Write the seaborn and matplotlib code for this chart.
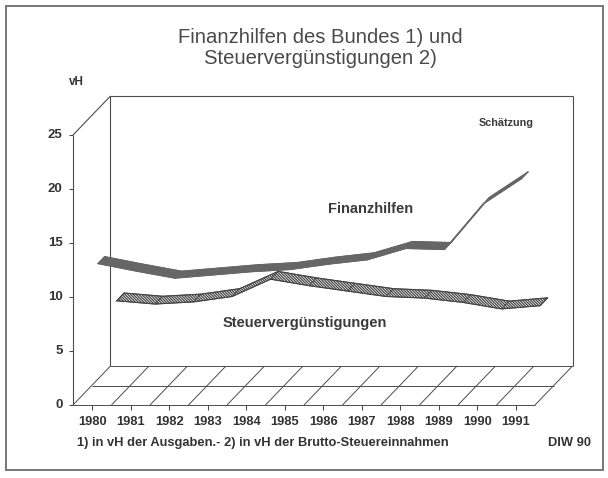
import numpy as np
import pandas as pd
import matplotlib
matplotlib.use("Agg")
import matplotlib.pyplot as plt
import seaborn as sns
from matplotlib.patches import Rectangle

# ---------------- data ----------------
years = [1980, 1981, 1982, 1983, 1984, 1985, 1986, 1987, 1988, 1989, 1990, 1991]
finanzhilfen = [12.55, 11.85, 11.2, 11.5, 11.8, 12.0, 12.5, 12.9, 13.95, 13.85, 18.05, 20.4]
steuerverg = [7.3, 7.0, 7.2, 7.7, 9.3, 8.7, 8.2, 7.7, 7.55, 7.15, 6.55, 6.85]
y_ticks = [0, 5, 10, 15, 20, 25]
title = "Finanzhilfen des Bundes 1) und\nSteuervergünstigungen 2)"
unit = "vH"
label_fin = "Finanzhilfen"
label_st = "Steuervergünstigungen"
note_est = "Schätzung"
footnote = "1) in vH der Ausgaben.- 2) in vH der Brutto-Steuereinnahmen"
source = "DIW 90"

# ---------------- style ----------------
sns.set_theme(style="white")
plt.rcParams["font.family"] = ["Liberation Sans", "DejaVu Sans"]
plt.rcParams["hatch.linewidth"] = 0.9
plt.rcParams["hatch.color"] = "#444444"

W, H = 608, 478
fig = plt.figure(figsize=(W / 100, H / 100), dpi=100)
fig.patch.set_facecolor("white")

# pixel layout of the pseudo-3D box
X0, Y0 = 73.0, 405.0      # front origin in pixels
CELL = 38.5               # pixels per year cell
UNIT = 10.8               # pixels per vH
ax = fig.add_axes([0, 0, 1, 1])
ax.set_xlim(-X0 / CELL, (W - X0) / CELL)
ax.set_ylim((Y0 - H) / UNIT, Y0 / UNIT)
ax.axis("off")

DX = 37.5 / CELL          # depth shift (cells) for full depth
DY = 39.0 / UNIT          # depth shift (vH) for full depth
ncell = len(years)
ymax = y_ticks[-1]
gc = "#4d4d4d"


def proj(x, v, d):
    return x + DX * d, v + DY * d


def seg(p, q, **kw):
    ax.plot([p[0], q[0]], [p[1], q[1]], color=kw.get("color", gc),
            lw=kw.get("lw", 0.8), solid_capstyle="butt", zorder=kw.get("z", 2))


# back wall
seg(proj(0, 0, 1), proj(0, ymax, 1))
seg(proj(0, ymax, 1), proj(ncell, ymax, 1))
seg(proj(ncell, ymax, 1), proj(ncell, 0, 1))
# front axis + diagonal to wall
seg(proj(0, 0, 0), proj(0, ymax, 0))
seg(proj(0, ymax, 0), proj(0, ymax, 1))
# floor
for d in (0, 0.5, 1):
    seg(proj(0, 0, d), proj(ncell, 0, d), lw=0.7)
for k in range(ncell + 1):
    seg(proj(k, 0, 0), proj(k, 0, 1), lw=0.7)

# y ticks and labels
for v in y_ticks:
    seg((-0.11, v), (0, v), lw=0.8)
    ax.text(-0.27, v, str(v), ha="right", va="center", fontsize=9.5,
            fontweight="bold", color="#333333")
ax.text((76 - X0) / CELL, (Y0 - 82) / UNIT, unit, ha="center", va="center",
        fontsize=8.5, fontweight="bold", color="#333333")

# year ticks and labels
for i, yr in enumerate(years):
    seg((i + 0.5, 0), (i + 0.5, -0.45), lw=0.8)
    ax.text(i + 0.5, (Y0 - 422) / UNIT, str(yr), ha="center", va="center",
            fontsize=9.3, fontweight="bold", color="#333333")


# ribbons
def ribbon(vals, d1, d2, face, hatch=None, edge=None, z=3):
    xs = np.arange(len(vals)) + 0.5
    fx, fy = proj(xs, np.asarray(vals), d1)
    bx, by = proj(xs, np.asarray(vals), d2)
    for i in range(len(vals) - 1):
        px = [fx[i], fx[i + 1], bx[i + 1], bx[i]]
        py = [fy[i], fy[i + 1], by[i + 1], by[i]]
        ax.fill(px, py, facecolor=face, edgecolor=edge if edge else face,
                hatch=hatch, lw=0.6, zorder=z)
    ec = edge if edge else face
    sns.lineplot(x=fx, y=fy, ax=ax, color=ec, lw=0.8, sort=False,
                 estimator=None, zorder=z + 0.5)
    sns.lineplot(x=bx, y=by, ax=ax, color=ec, lw=0.8, sort=False,
                 estimator=None, zorder=z + 0.5)
    ax.plot([fx[0], bx[0]], [fy[0], by[0]], color=ec, lw=0.8, zorder=z + 0.5)
    ax.plot([fx[-1], bx[-1]], [fy[-1], by[-1]], color=ec, lw=0.8, zorder=z + 0.5)


ribbon(steuerverg, 0.65, 0.85, "white", hatch="\\" * 12, edge="#444444", z=3)
ribbon(finanzhilfen, 0.15, 0.33, "#666666", z=5)

# texts (pixel positions -> figure coords)
def ftext(px, py, s, **kw):
    fig.text(px / W, 1 - py / H, s, **kw)


ftext(320, 48, title, ha="center", va="center", fontsize=14.6, color="#4a4a4a",
      linespacing=1.12)
ftext(371, 209, label_fin, ha="center", va="center", fontsize=10.5,
      fontweight="bold", color="#3a3a3a")
ftext(305, 323, label_st, ha="center", va="center", fontsize=10.5,
      fontweight="bold", color="#3a3a3a")
ftext(506, 123, note_est, ha="center", va="center", fontsize=7.8,
      fontweight="bold", color="#3a3a3a")
ftext(77, 443, footnote, ha="left", va="center", fontsize=9.3,
      fontweight="bold", color="#333333")
ftext(591, 443, source, ha="right", va="center", fontsize=9.3,
      fontweight="bold", color="#333333")

# outer frame
fig.patches.append(Rectangle((6 / W, 1 - 470 / H), 597 / W, 464 / H,
                             transform=fig.transFigure, fill=False,
                             edgecolor="#777777", lw=1.4))

fig.savefig("out.png", dpi=100, facecolor="white")
